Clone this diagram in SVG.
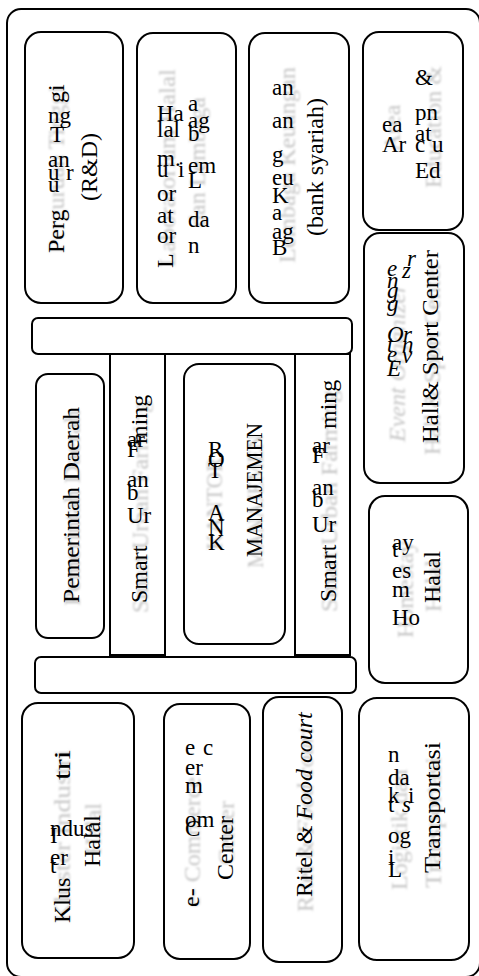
<svg xmlns="http://www.w3.org/2000/svg" width="479" height="976" viewBox="0 0 479 976">
<defs>
<filter id="blur" x="-10%" y="-10%" width="120%" height="120%"><feGaussianBlur stdDeviation="0.9"/></filter>
</defs>
<style>
.box{fill:#fff;stroke:#000;stroke-width:2}
.t{font-family:"Liberation Serif",serif;font-size:24px;fill:#000}
.f{font-family:"Liberation Serif",serif;font-size:23px;fill:#000}
.g{font-family:"Liberation Serif",serif;font-size:24px;fill:#c6c6c6;filter:url(#blur)}
.i{font-style:italic}
</style>
<rect x="7" y="9" width="473" height="968" rx="14" fill="#fff" stroke="#000" stroke-width="2"/>
<g id="connectors"/>

<g id="n-perguruan">
<rect class="box" x="25" y="32" width="98" height="271" rx="16"/>
<text class="g" transform="translate(64,253) rotate(-90)">Perguruan Tinggi</text>
<g transform="translate(64,253) rotate(-90)"><text class="t">Perg</text><text class="t" x="150">gi</text></g>
<text class="f" x="48" y="123">ng</text>
<text class="f" x="50" y="142">T</text>
<text class="f" x="48" y="167">an</text>
<text class="f" x="48" y="180">u</text><text class="f" x="66" y="180">r</text>
<text class="f" x="48" y="192">u</text>
<text class="t" text-anchor="middle" transform="translate(97,167) rotate(-90)">(R&amp;D)</text>
</g>

<g id="n-laboratorium">
<rect class="box" x="137" y="33" width="99" height="270" rx="16"/>
<text class="g" transform="translate(175,267) rotate(-90)" textLength="198" lengthAdjust="spacingAndGlyphs">Laboratorium Halal</text>
<text class="g" text-anchor="middle" transform="translate(205,162) rotate(-90)">dan Lembaga</text>
<text class="t" transform="translate(173,268) rotate(-90)">L</text>
<text class="f" x="157" y="121">Ha</text>
<text class="f" x="157" y="137">lal</text>
<text class="f" x="157" y="166">m.</text>
<text class="f" x="157" y="177">u</text><text class="f" x="178" y="177">i</text>
<text class="f" x="157" y="201">or</text>
<text class="f" x="157" y="223">at</text>
<text class="f" x="157" y="243">or</text>
<text class="f" x="188" y="111">a</text>
<text class="f" x="188" y="128">ag</text>
<text class="f" x="188" y="141">b</text>
<text class="f" x="188" y="173">em</text>
<text class="f" x="188" y="188">L</text>
<text class="f" x="188" y="227">da</text>
<text class="f" x="188" y="253">n</text>
</g>

<g id="n-keuangan">
<rect class="box" x="249" y="33" width="100" height="270" rx="16"/>
<text class="g" transform="translate(295,263) rotate(-90)" textLength="196" lengthAdjust="spacingAndGlyphs">Lembaga Keuangan</text>
<text class="f" x="272" y="95">an</text>
<text class="f" x="272" y="128">an</text>
<text class="f" x="272" y="162">g</text>
<text class="f" x="272" y="185">eu</text>
<text class="f" x="272" y="203">K</text>
<text class="f" x="272" y="220">a</text>
<text class="f" x="272" y="239">ag</text>
<text class="f" x="272" y="255">B</text>
<text class="t" text-anchor="middle" transform="translate(323,167) rotate(-90)">(bank syariah)</text>
</g>

<g id="n-education">
<rect class="box" x="363" y="32" width="100" height="198" rx="16"/>
<text class="g" transform="translate(441,188) rotate(-90)">Education &amp;</text>
<text class="g" text-anchor="middle" transform="translate(400,128) rotate(-90)">Area</text>
<text class="f" x="415" y="85">&amp;</text>
<text class="f" x="415" y="120">pn</text>
<text class="f" x="415" y="141">at</text>
<text class="f" x="415" y="152">c</text><text class="f" x="432" y="152">u</text>
<text class="f" x="415" y="178">Ed</text>
<text class="f" x="382" y="132">ea</text>
<text class="f" x="382" y="152">Ar</text>
</g>

<g id="n-event">
<rect class="box" x="364" y="233" width="100" height="250" rx="16"/>
<text class="g i" transform="translate(405,442) rotate(-90)">Event Organizer</text>
<text class="g" transform="translate(440,455) rotate(-90)" textLength="193" lengthAdjust="spacingAndGlyphs">Hall &amp; Sport Center</text>
<text class="t" transform="translate(438,443) rotate(-90)" textLength="193" lengthAdjust="spacingAndGlyphs">Hall&amp; Sport Center</text>
<text class="f i" x="407" y="266">r</text>
<text class="f i" x="387" y="276">e</text><text class="f i" x="402" y="278">z</text>
<text class="f i" x="387" y="288">n</text>
<text class="f i" x="387" y="298">g</text>
<text class="f i" x="387" y="311">g</text>
<text class="f i" x="387" y="342">O</text><text class="f i" x="403" y="342">r</text>
<text class="f i" x="387" y="352">t</text><text class="f i" x="402" y="352">n</text>
<text class="f i" x="387" y="362">e</text><text class="f i" x="402" y="363">v</text>
<text class="f i" x="387" y="376">E</text>
</g>

<g id="n-homestay">
<rect class="box" x="369" y="496" width="99" height="187" rx="16"/>
<text class="g" transform="translate(413,638) rotate(-90)">Homestay</text>
<text class="g" transform="translate(441,612) rotate(-90)">Halal</text>
<text class="t" transform="translate(440,603) rotate(-90)">Halal</text>
<text class="f" x="392" y="550">ay</text>
<text class="f" x="392" y="557">t</text>
<text class="f" x="392" y="578">es</text>
<text class="f" x="392" y="597">m</text>
<text class="f" x="392" y="625">Ho</text>
</g>

<g id="n-farming-left">
<rect class="box" x="110" y="354" width="55" height="301"/>
<text class="g" transform="translate(148,613) rotate(-90)" textLength="212" lengthAdjust="spacingAndGlyphs">Smart Urban Farming</text>
<g transform="translate(147,603) rotate(-90)"><text class="t">Smart</text><text class="t" x="159">ming</text></g>
<text class="f" x="127" y="447">ar</text>
<text class="f" x="127" y="457">F</text>
<text class="f" x="127" y="487">an</text>
<text class="f" x="127" y="500">b</text>
<text class="f" x="127" y="523">Ur</text>
</g>

<g id="n-farming-right">
<rect class="box" x="295" y="354" width="55" height="301"/>
<text class="g" transform="translate(337,612) rotate(-90)" textLength="222" lengthAdjust="spacingAndGlyphs">Smart Urban Farming</text>
<g transform="translate(336,602) rotate(-90)"><text class="t">Smart</text><text class="t" x="173">ming</text></g>
<text class="f" x="312" y="453">ar</text>
<text class="f" x="312" y="463">F</text>
<text class="f" x="312" y="495">an</text>
<text class="f" x="312" y="507">b</text>
<text class="f" x="312" y="532">Ur</text>
</g>

<g id="n-bar-top">
<rect class="box" x="32" y="318" width="320" height="36" rx="6"/>
</g>
<g id="n-bar-bottom">
<rect class="box" x="35" y="657" width="321" height="36" rx="6"/>
</g>

<g id="n-pemerintah">
<rect class="box" x="36" y="374" width="68" height="264" rx="12"/>
<text class="g" transform="translate(80,606) rotate(-90)" textLength="196" lengthAdjust="spacingAndGlyphs">Pemerintah Daerah</text>
<text class="t" transform="translate(79,603) rotate(-90)" textLength="196" lengthAdjust="spacingAndGlyphs">Pemerintah Daerah</text>
</g>

<g id="n-kantor">
<rect class="box" x="184" y="364" width="101" height="280" rx="15"/>
<text class="g" transform="translate(222,550) rotate(-90)" textLength="93" lengthAdjust="spacingAndGlyphs">KANTOR</text>
<text class="g" transform="translate(263,568) rotate(-90)" textLength="134" lengthAdjust="spacingAndGlyphs">MANAJEMEN</text>
<text class="t" transform="translate(262,557) rotate(-90)" textLength="134" lengthAdjust="spacingAndGlyphs">MANAJEMEN</text>
<text class="f" x="208" y="457">R</text>
<text class="f" x="208" y="467">O</text>
<text class="f" x="208" y="478">T</text>
<text class="f" x="208" y="520">A</text>
<text class="f" x="208" y="535">N</text>
<text class="f" x="208" y="550">K</text>
</g>

<g id="n-klaster">
<rect class="box" x="22" y="703" width="112" height="255" rx="16"/>
<text class="g" transform="translate(70,923) rotate(-90)" textLength="173" lengthAdjust="spacingAndGlyphs">Kluster Industri</text>
<g transform="translate(70,923) rotate(-90)"><text class="t">Klus</text><text class="t" x="143" textLength="30" lengthAdjust="spacingAndGlyphs">tri</text></g>
<text class="f" x="50" y="836">ndus</text>
<text class="f" x="50" y="843">I</text>
<text class="f" x="50" y="865">er</text>
<text class="f" x="50" y="873">t</text>
<text class="g" transform="translate(101,855) rotate(-90)">Halal</text>
<text class="t" transform="translate(100,867) rotate(-90)">Halal</text>
</g>

<g id="n-ecommerce">
<rect class="box" x="164" y="704" width="86" height="255" rx="16"/>
<text class="g" transform="translate(200,907) rotate(-90)">e- Commerce</text>
<text class="t" transform="translate(199,907) rotate(-90)">e-</text>
<text class="f" x="185" y="755">e</text><text class="f" x="203" y="755">c</text>
<text class="f" x="185" y="775">er</text>
<text class="f" x="185" y="793">m</text>
<text class="f" x="185" y="827">om</text>
<text class="f" x="185" y="836">C</text>
<text class="g" transform="translate(234,865) rotate(-90)">Center</text>
<text class="t" transform="translate(233,880) rotate(-90)">Center</text>
</g>

<g id="n-ritel">
<rect class="box" x="263" y="697" width="79" height="265" rx="16"/>
<text class="g" transform="translate(313,912) rotate(-90)">Ritel &amp; <tspan class="i">Food court</tspan></text>
<text class="t" transform="translate(312,897) rotate(-90)">Ritel &amp; <tspan class="i">Food court</tspan></text>
</g>

<g id="n-logistik">
<rect class="box" x="359" y="698" width="110" height="262" rx="18"/>
<text class="g" transform="translate(407,890) rotate(-90)">Logistik dan</text>
<text class="g" transform="translate(441,888) rotate(-90)" textLength="131" lengthAdjust="spacingAndGlyphs">Transportasi</text>
<text class="t" transform="translate(440,873) rotate(-90)" textLength="131" lengthAdjust="spacingAndGlyphs">Transportasi</text>
<text class="f" x="388" y="762">n</text>
<text class="f" x="388" y="785">da</text>
<text class="f" x="388" y="803">k</text><text class="f" x="408" y="803">i</text>
<text class="f" x="388" y="812">t</text><text class="f i" x="402" y="812">s</text>
<text class="f" x="388" y="843">og</text>
<text class="f" x="388" y="865">i</text>
<text class="f" x="388" y="877">L</text>
</g>
</svg>
